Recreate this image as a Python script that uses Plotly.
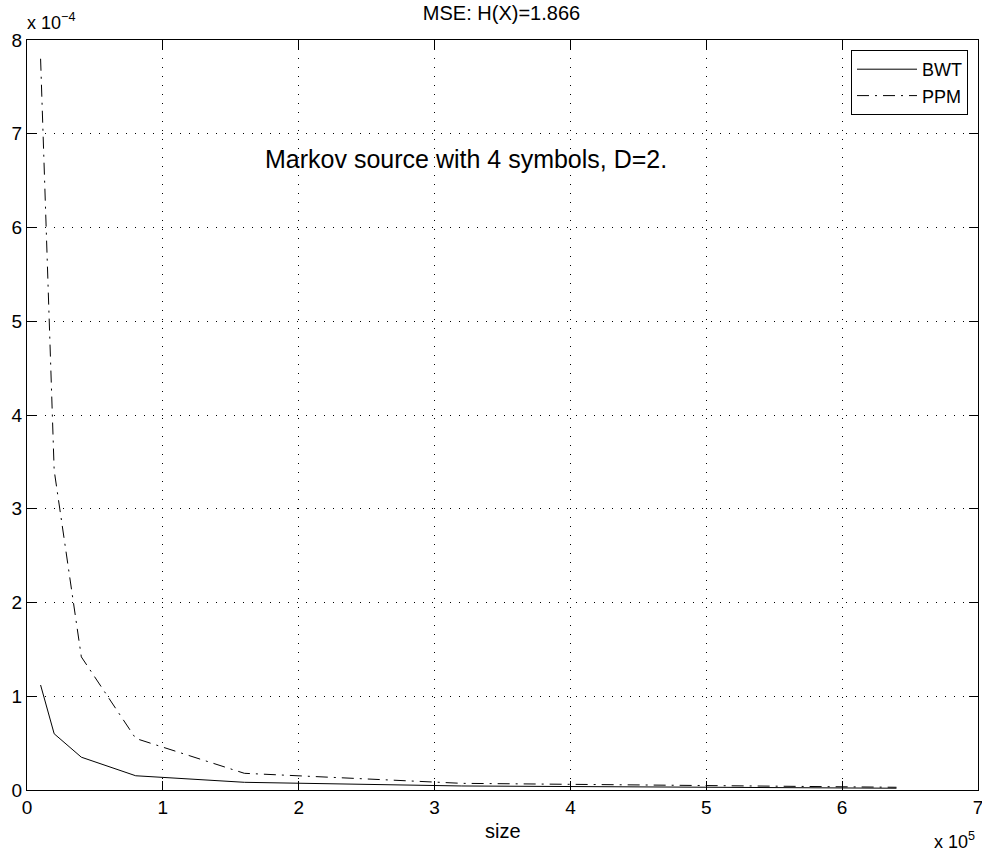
import plotly.graph_objects as go

sizes = [10000, 20000, 40000, 80000, 160000, 320000, 640000]
bwt = [1.12e-4, 0.60e-4, 0.35e-4, 0.152e-4, 0.082e-4, 0.043e-4, 0.019e-4]
ppm = [7.80e-4, 3.41e-4, 1.42e-4, 0.55e-4, 0.178e-4, 0.071e-4, 0.029e-4]

x_ticks = [0, 1e5, 2e5, 3e5, 4e5, 5e5, 6e5, 7e5]
x_ticktext = ["0", "1", "2", "3", "4", "5", "6", "7"]
y_ticks = [0, 1e-4, 2e-4, 3e-4, 4e-4, 5e-4, 6e-4, 7e-4, 8e-4]
y_ticktext = ["0", "1", "2", "3", "4", "5", "6", "7", "8"]

FONT = "Liberation Sans, Arial, Helvetica, sans-serif"
OFF = 0  # page body margin removed by post_script
W, H = 982, 859
ML, MR, MT, MB = 27, 4, 40, 69

fig = go.Figure()
fig.add_trace(go.Scatter(x=sizes, y=bwt, mode="lines", name="BWT",
                         line=dict(color="black", width=1, dash="solid")))
fig.add_trace(go.Scatter(x=sizes, y=ppm, mode="lines", name="PPM",
                         line=dict(color="black", width=1, dash="12px,6px,2px,6px")))

axis_common = dict(showline=True, linecolor="black", linewidth=1, mirror="allticks",
                   ticks="inside", ticklen=9, tickcolor="black", tickwidth=1,
                   showgrid=True, gridcolor="black", gridwidth=1, griddash="1px,8px",
                   zeroline=False, automargin=False, ticklabeloverflow="allow",
                   tickfont=dict(family=FONT, size=19, color="black"))

fig.update_xaxes(range=[0, 7e5], tickvals=x_ticks, ticktext=x_ticktext, **axis_common)
fig.update_yaxes(range=[0, 8e-4], tickvals=y_ticks, ticktext=y_ticktext, **axis_common)

def px_x(p):
    return (p - OFF - ML) / (W - ML - MR)

def px_y(p):
    return (OFF + H - MB - p) / (H - MT - MB)

fig.update_layout(
    width=W, height=H,
    margin=dict(l=ML, r=MR, t=MT, b=MB),
    plot_bgcolor="white", paper_bgcolor="white",
    font=dict(family=FONT, color="black"),
    title=dict(text="MSE: H(X)=1.866", x=px_x(501.5), xref="paper", xanchor="center",
               y=1 - (13 - OFF) / H, yanchor="middle",
               font=dict(family=FONT, size=20, color="black")),
    legend=dict(x=px_x(968), y=px_y(50), xanchor="right", yanchor="top",
                bordercolor="black", borderwidth=1, bgcolor="white",
                font=dict(family=FONT, size=18, color="black"),
                tracegroupgap=0, itemwidth=60),
    showlegend=True,
    annotations=[
        dict(text="Markov source with 4 symbols, D=2.", xref="paper", yref="paper",
             x=px_x(465.5), y=px_y(159), xanchor="center", yanchor="middle", showarrow=False,
             font=dict(family=FONT, size=25, color="black")),
        dict(text="size", xref="paper", yref="paper",
             x=px_x(503), y=px_y(831), xanchor="center", yanchor="middle", showarrow=False,
             font=dict(family=FONT, size=20, color="black")),
        dict(text="x 10<sup>−4</sup>", xref="paper", yref="paper",
             x=px_x(25), y=px_y(22), xanchor="left", yanchor="middle", showarrow=False,
             font=dict(family=FONT, size=18, color="black")),
        dict(text="x 10<sup>5</sup>", xref="paper", yref="paper",
             x=px_x(977), y=px_y(840), xanchor="right", yanchor="middle", showarrow=False,
             font=dict(family=FONT, size=18, color="black")),
    ],
)

fig.write_html("out.html", config={"displayModeBar": False},
               post_script="document.body.style.margin='0';")
